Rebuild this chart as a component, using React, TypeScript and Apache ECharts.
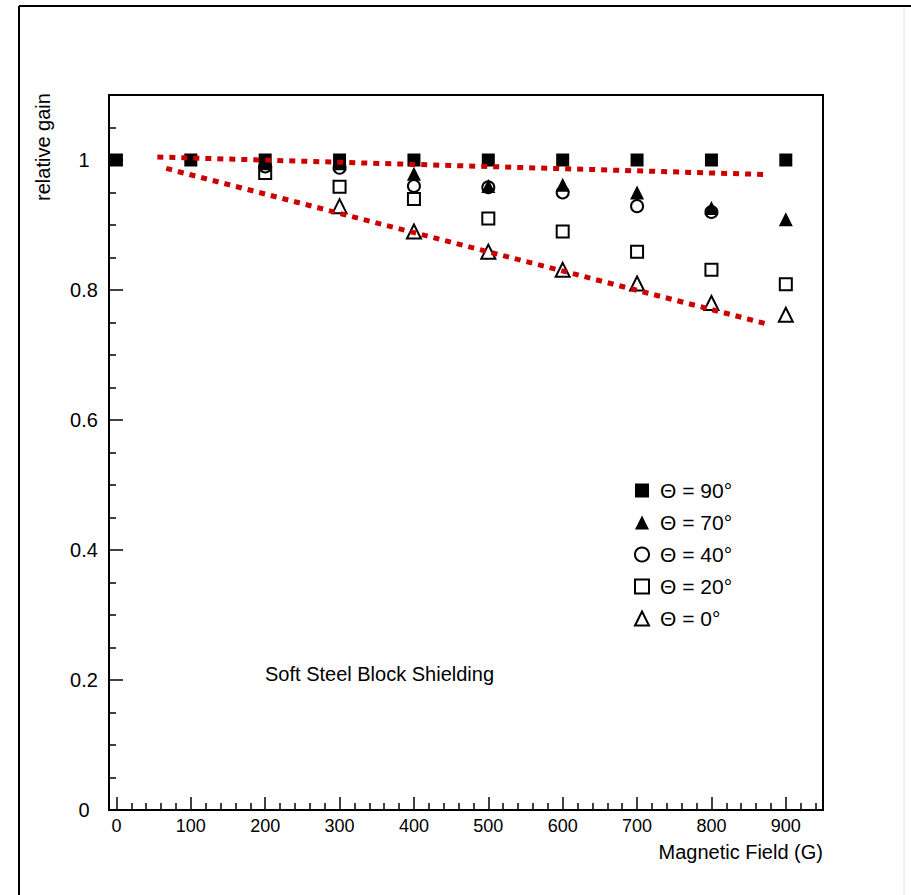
import React, { useEffect, useRef } from "react";
import * as echarts from "echarts";

const fieldG = [0, 100, 200, 300, 400, 500, 600, 700, 800, 900];
const theta90 = [1.0, 1.0, 1.0, 1.0, 1.0, 1.0, 1.0, 1.0, 1.0, 1.0];
const theta70 = [null, null, 0.995, 0.995, 0.979, 0.96, 0.962, 0.95, 0.926, 0.909];
const theta40 = [null, null, 0.99, 0.988, 0.96, 0.958, 0.95, 0.929, 0.92, null];
const theta20 = [null, null, 0.98, 0.959, 0.94, 0.91, 0.89, 0.859, 0.831, 0.809];
const theta0 = [null, null, null, 0.929, 0.89, 0.859, 0.831, 0.81, 0.78, 0.762];

const upperFit = [[55, 1.0046], [871, 0.9777]];
const lowerFit = [[67, 0.987], [875, 0.7477]];

const xMajorTicks = [0, 100, 200, 300, 400, 500, 600, 700, 800, 900];
const xMinorTicks = Array.from({ length: 47 }, (_, i) => (i + 1) * 20).filter((v) => v % 100 !== 0);
const yMajorTicks = [0, 0.2, 0.4, 0.6, 0.8, 1.0];
const yMinorTicks = [0.05, 0.1, 0.15, 0.25, 0.3, 0.35, 0.45, 0.5, 0.55, 0.65, 0.7, 0.75, 0.85, 0.9, 0.95, 1.05];

const legendNames = ["Θ = 90°", "Θ = 70°", "Θ = 40°", "Θ = 20°", "Θ = 0°"];

const FONT = "'Liberation Sans', Arial, sans-serif";

function pairs(vals: (number | null)[]) {
  return fieldG.map((x, i) => [x, vals[i]]).filter((p) => p[1] !== null);
}

export default function App() {
  const ref = useRef<HTMLDivElement>(null);
  useEffect(() => {
    if (!ref.current) return;
    const chart = echarts.init(ref.current, null, { renderer: "svg" });
    const axisLine = { show: true, onZero: false, lineStyle: { color: "#000", width: 2 } };
    const option: any = {
      animation: false,
      backgroundColor: "#fff",
      grid: {
        left: 109, top: 95, right: 88, bottom: 85,
        show: true, borderColor: "#000", borderWidth: 2, backgroundColor: "transparent",
      },
      xAxis: [
        {
          type: "value", min: -10, max: 950, position: "bottom",
          axisLine, splitLine: { show: false },
          axisTick: { show: true, inside: true, length: 13, customValues: xMajorTicks, lineStyle: { color: "#000", width: 1.5 } },
          axisLabel: { customValues: xMajorTicks, margin: 7, fontSize: 18, color: "#000", fontFamily: FONT },
        },
        {
          type: "value", min: -10, max: 950, position: "bottom",
          axisLine, splitLine: { show: false },
          axisTick: { show: true, inside: true, length: 7, customValues: xMinorTicks, lineStyle: { color: "#000", width: 1.5 } },
          axisLabel: { show: false },
        },
      ],
      yAxis: [
        {
          type: "value", min: 0, max: 1.1, position: "left",
          axisLine, splitLine: { show: false },
          axisTick: { show: true, inside: true, length: 14, customValues: yMajorTicks, lineStyle: { color: "#000", width: 1.5 } },
          axisLabel: {
            customValues: yMajorTicks, margin: 25, align: "center", fontSize: 20, color: "#000", fontFamily: FONT,
            formatter: (v: number) => String(Math.round(v * 10) / 10),
          },
        },
        {
          type: "value", min: 0, max: 1.1, position: "left",
          axisLine, splitLine: { show: false },
          axisTick: { show: true, inside: true, length: 7, customValues: yMinorTicks, lineStyle: { color: "#000", width: 1.5 } },
          axisLabel: { show: false },
        },
      ],
      legend: {
        orient: "vertical", left: 629, top: 475,
        data: legendNames,
        itemWidth: 14, itemHeight: 14, itemGap: 11,
        textStyle: { fontSize: 21, lineHeight: 21, color: "#000", fontFamily: FONT, padding: [0, 0, 0, 6] },
      },
      series: [
        {
          name: "Θ = 0°", type: "scatter", data: pairs(theta0), symbol: "emptyTriangle", symbolSize: 14,
          itemStyle: { color: "#000", borderColor: "#000", borderWidth: 1.5, opacity: 1 },
        },
        {
          name: "Θ = 20°", type: "scatter", data: pairs(theta20), symbol: "emptyRect", symbolSize: 12,
          itemStyle: { color: "#000", borderColor: "#000", borderWidth: 1.5, opacity: 1 },
        },
        {
          name: "Θ = 40°", type: "scatter", data: pairs(theta40), symbol: "emptyCircle", symbolSize: 12,
          itemStyle: { color: "#000", borderColor: "#000", borderWidth: 1.5, opacity: 1 },
        },
        {
          name: "Θ = 70°", type: "scatter", data: pairs(theta70), symbol: "triangle", symbolSize: 14,
          itemStyle: { color: "#000", opacity: 1 },
        },
        {
          name: "Θ = 90°", type: "scatter", data: pairs(theta90), symbol: "rect", symbolSize: 13,
          itemStyle: { color: "#000", opacity: 1 },
        },
        {
          name: "fit-upper", type: "line", data: upperFit, symbol: "none",
          lineStyle: { color: "#cc0000", width: 5, type: [6, 6] }, z: 5,
        },
        {
          name: "fit-lower", type: "line", data: lowerFit, symbol: "none",
          lineStyle: { color: "#cc0000", width: 5, type: [6, 6] }, z: 5,
        },
      ],
      graphic: [
        { type: "line", shape: { x1: 19, y1: 6, x2: 911, y2: 6 }, style: { stroke: "#000", lineWidth: 2 } },
        { type: "line", shape: { x1: 19, y1: 6, x2: 19, y2: 895 }, style: { stroke: "#000", lineWidth: 2 } },
        { type: "line", shape: { x1: 904, y1: 8, x2: 904, y2: 895 }, style: { stroke: "#e6e6e6", lineWidth: 1 } },
        {
          type: "text", x: 43, y: 147, rotation: Math.PI / 2,
          style: { text: "relative gain", fontSize: 20, fontFamily: FONT, fill: "#000", textAlign: "center", textVerticalAlign: "middle" },
        },
        {
          type: "text", x: 823, y: 852,
          style: { text: "Magnetic Field (G)", fontSize: 20, fontFamily: FONT, fill: "#000", textAlign: "right", textVerticalAlign: "middle" },
        },
        {
          type: "text", x: 265, y: 674,
          style: { text: "Soft Steel Block Shielding", fontSize: 20, fontFamily: FONT, fill: "#000", textAlign: "left", textVerticalAlign: "middle" },
        },
      ],
    };
    chart.setOption(option);
    return () => chart.dispose();
  }, []);
  return <div ref={ref} style={{ width: 911, height: 895, position: "absolute", left: 0, top: 0 }} />;
}
